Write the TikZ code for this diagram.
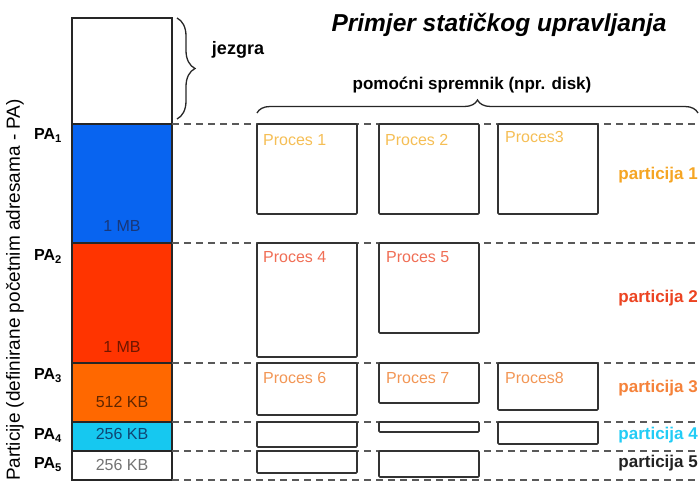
\documentclass[tikz,border=0pt]{standalone}
\usepackage{fontspec}
\setmainfont{Liberation Sans}
\usetikzlibrary{decorations.pathreplacing}
\definecolor{memblue}{RGB}{8,100,240}
\definecolor{memred}{RGB}{255,52,0}
\definecolor{memorange}{RGB}{255,104,0}
\definecolor{memcyan}{RGB}{22,200,240}
\definecolor{tblue}{RGB}{25,55,120}
\definecolor{tred}{RGB}{110,22,0}
\definecolor{torange}{RGB}{95,38,0}
\definecolor{tcyan}{RGB}{15,70,115}
\definecolor{pone}{RGB}{245,190,85}
\definecolor{ptwo}{RGB}{240,110,85}
\definecolor{pthree}{RGB}{242,150,85}
\definecolor{partone}{RGB}{245,165,35}
\definecolor{parttwo}{RGB}{236,68,34}
\definecolor{partthree}{RGB}{245,130,58}
\definecolor{partfour}{RGB}{34,204,245}
\definecolor{partfive}{RGB}{34,34,34}
\begin{document}
\begin{tikzpicture}[x=1pt,y=-1pt,
  seg/.style={draw=black!85, line width=1.3pt, inner sep=0pt, outer sep=0pt,
    anchor=north west, minimum width=100pt},
  pbox/.style={draw=black!80, line width=1.7pt, inner sep=0pt, outer sep=0pt,
    anchor=north west, minimum width=100pt, rounded corners=1pt},
  sepline/.style={draw=black!65, line width=1.3pt, dash pattern=on 7pt off 5pt},
  plabel/.style={inner sep=0pt, anchor=base west, font=\fontsize{16}{18}\selectfont},
  sizelabel/.style={inner sep=0pt, font=\fontsize{16}{18}\selectfont},
  palabel/.style={inner sep=0pt, anchor=base west, font=\bfseries\fontsize{16}{18}\selectfont},
  partlabel/.style={inner sep=0pt, anchor=east, font=\bfseries\fontsize{17}{19}\selectfont},
  bracestyle/.style={draw=black!85, line width=1.3pt, decorate}
]
\useasboundingbox (0,0) rectangle (699,482);
\coordinate (R) at (699,0);

% memory column
\node[seg, minimum height=106pt] (kern) at (72,18) {};
\node[seg, fill=memblue, minimum height=119pt] (blue) at (72,124) {};
\node[seg, fill=memred, minimum height=120pt] (red) at (72,243) {};
\node[seg, fill=memorange, minimum height=59pt] (orng) at (72,363) {};
\node[seg, fill=memcyan, minimum height=29pt] (cyan) at (72,422) {};
\node[seg, fill=white, minimum height=29pt] (wht) at (72,451) {};

% size labels
\node[sizelabel, text=tblue] (s1) at (122,226) {1 MB};
\node[sizelabel, text=tred] (s2) at (122,347) {1 MB};
\node[sizelabel, text=torange] (s3) at (122,402) {512 KB};
\node[sizelabel, text=tcyan] (s4) at (122,434) {256 KB};
\node[sizelabel, text=black!55] (s5) at (122,465) {256 KB};

% PA labels
\node[palabel] (pa1) at (34,139.5) {PA\textsubscript{1}};
\node[palabel] (pa2) at (34,260.5) {PA\textsubscript{2}};
\node[palabel] (pa3) at (34,379.5) {PA\textsubscript{3}};
\node[palabel] (pa4) at (34,439.5) {PA\textsubscript{4}};
\node[palabel] (pa5) at (34,468.5) {PA\textsubscript{5}};

% rotated axis label
\node[inner sep=0pt, rotate=90, font=\fontsize{19}{21}\selectfont] (axis) at (15,290)
  {Particije (definirane početnim adresama - PA)};

% dashed separators
\draw[sepline] (blue.north east) -- (blue.north east -| R);
\draw[sepline] (red.north east) -- (red.north east -| R);
\draw[sepline] (orng.north east) -- (orng.north east -| R);
\draw[sepline] (cyan.north east) -- (cyan.north east -| R);
\draw[sepline] (wht.north east) -- (wht.north east -| R);
\draw[sepline] (wht.south east) -- (wht.south east -| R);

% process boxes
\node[pbox, minimum height=90pt] (p1) at (257,124) {};
\node[pbox, minimum height=90pt] (p2) at (379,124) {};
\node[pbox, minimum height=90pt] (p3) at (498,124) {};
\node[pbox, minimum height=114pt] (p4) at (257,243) {};
\node[pbox, minimum height=90pt] (p5) at (379,243) {};
\node[pbox, minimum height=52pt] (p6) at (257,363) {};
\node[pbox, minimum height=40pt] (p7) at (379,363) {};
\node[pbox, minimum height=47pt] (p8) at (498,363) {};
\node[pbox, minimum height=25pt] (q1) at (257,422) {};
\node[pbox, minimum height=10pt] (q2) at (379,422) {};
\node[pbox, minimum height=22pt] (q3) at (498,422) {};
\node[pbox, minimum height=22pt] (r1) at (257,451) {};
\node[pbox, minimum height=26pt] (r2) at (379,451) {};

% process labels
\node[plabel, text=pone, xshift=6pt, yshift=-21pt] (l1) at (p1.north west) {Proces 1};
\node[plabel, text=pone, xshift=6pt, yshift=-21pt] (l2) at (p2.north west) {Proces 2};
\node[plabel, text=pone, xshift=7pt, yshift=-18pt] (l3) at (p3.north west) {Proces3};
\node[plabel, text=ptwo, xshift=6pt, yshift=-19pt] (l4) at (p4.north west) {Proces 4};
\node[plabel, text=ptwo, xshift=7pt, yshift=-19pt] (l5) at (p5.north west) {Proces 5};
\node[plabel, text=pthree, xshift=6pt, yshift=-20pt] (l6) at (p6.north west) {Proces 6};
\node[plabel, text=pthree, xshift=7pt, yshift=-20pt] (l7) at (p7.north west) {Proces 7};
\node[plabel, text=pthree, xshift=7pt, yshift=-20pt] (l8) at (p8.north west) {Proces8};

% partition labels
\node[partlabel, text=partone] (pt1) at (698,175) {particija 1};
\node[partlabel, text=parttwo] (pt2) at (698,298) {particija 2};
\node[partlabel, text=partthree] (pt3) at (698,388) {particija 3};
\node[partlabel, text=partfour] (pt4) at (698,435) {particija 4};
\node[partlabel, text=partfive] (pt5) at (698,463) {particija 5};

% braces
\coordinate (jb1) at (177,18);
\coordinate (jb2) at (177,119);
\draw[bracestyle, decoration={brace, amplitude=18pt, aspect=0.5}] (jb1) -- (jb2);
\node[inner sep=0pt, font=\bfseries\fontsize{18}{20}\selectfont] (jez) at (238,50) {jezgra};

\coordinate (db1) at (257,113);
\coordinate (db2) at (698,113);
\draw[bracestyle, decoration={brace, amplitude=13pt, aspect=0.5}] (db1) -- (db2);
\node[inner sep=0pt, font=\bfseries\fontsize{17}{19}\selectfont] (disk) at (472,85) {pomoćni spremnik (npr. disk)};

% title
\node[inner sep=0pt, font=\bfseries\itshape\fontsize{24.5}{27}\selectfont] (title) at (499,25)
  {Primjer statičkog upravljanja};
\end{tikzpicture}
\end{document}
